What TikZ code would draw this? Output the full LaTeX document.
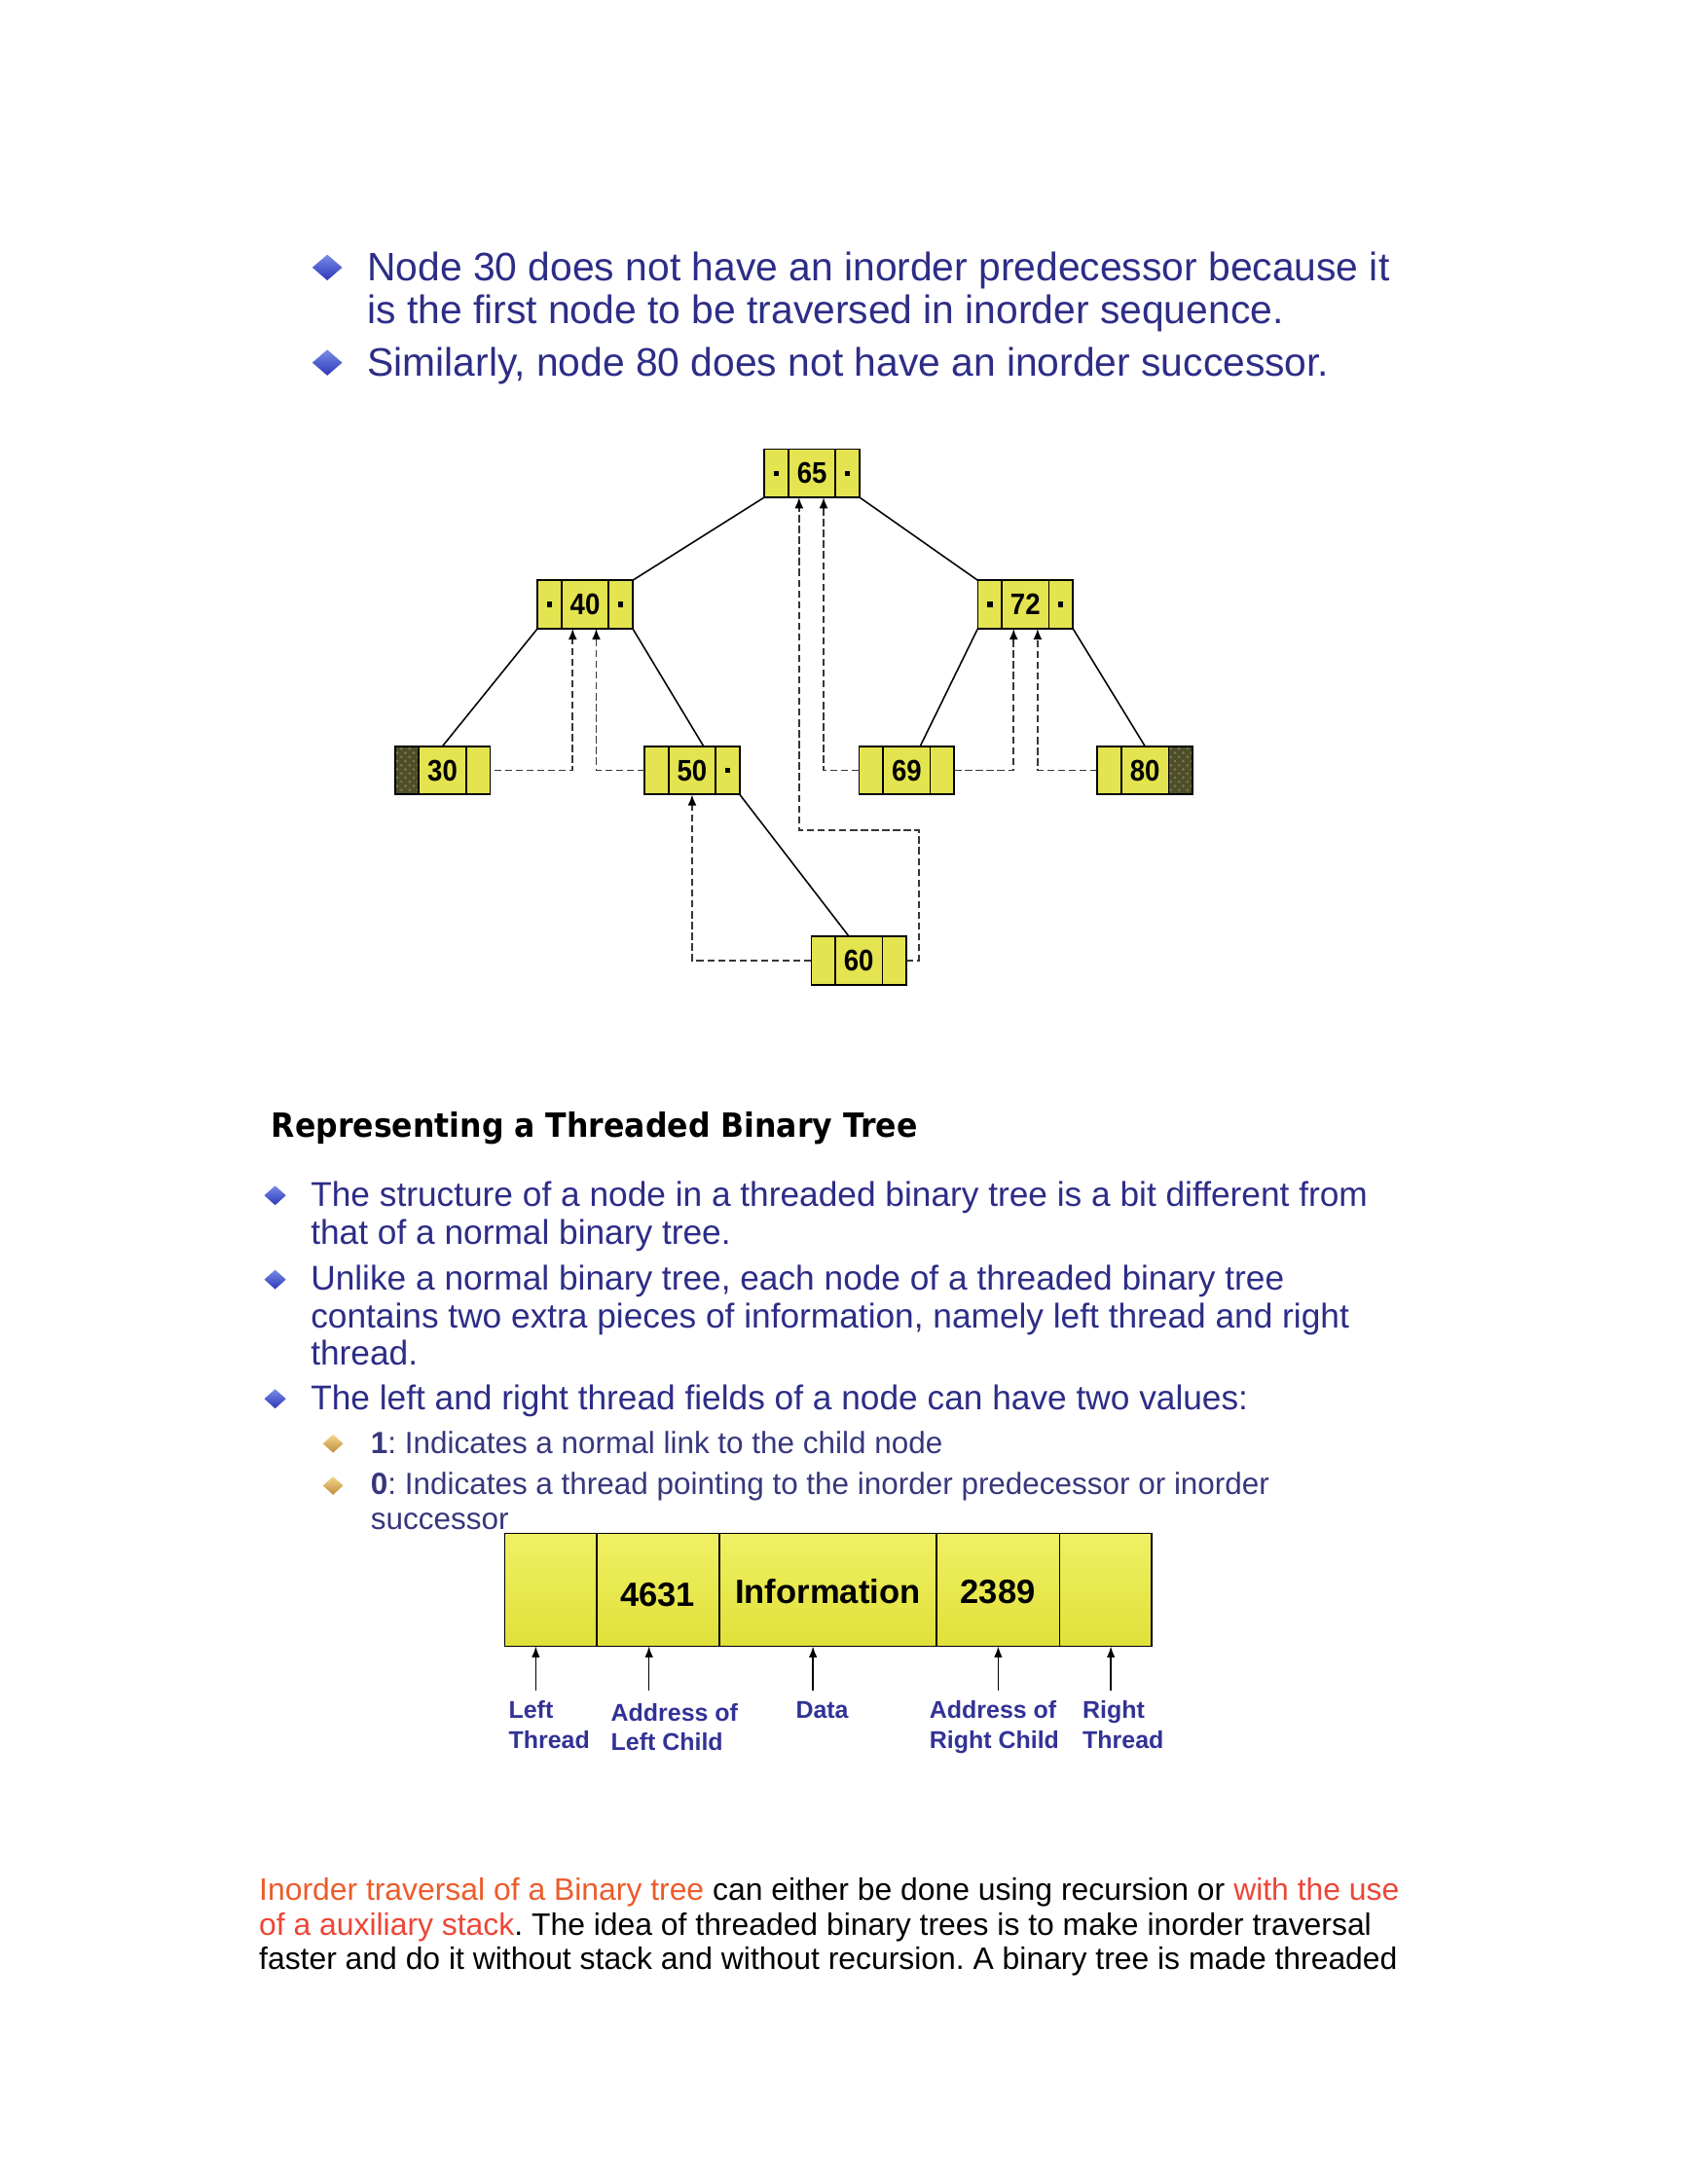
\documentclass[tikz,border=0pt]{standalone}
\usepackage{fontspec}
\setmainfont{Liberation Sans}
\newfontfamily\headfont{DejaVu Sans}
\usetikzlibrary{calc,arrows.meta,shapes.geometric,patterns}
\definecolor{navy}{RGB}{45,45,135}
\definecolor{subnavy}{RGB}{55,55,125}
\definecolor{lblnavy}{RGB}{50,50,150}
\definecolor{tyellow}{RGB}{228,228,80}
\definecolor{syelA}{RGB}{240,240,100}
\definecolor{syelB}{RGB}{224,224,58}
\definecolor{dcell}{RGB}{78,78,42}
\definecolor{dspeck}{RGB}{125,125,80}
\definecolor{dgray}{RGB}{55,55,55}
\definecolor{blueA}{RGB}{120,140,230}
\definecolor{blueB}{RGB}{45,55,185}
\definecolor{goldA}{RGB}{245,215,140}
\definecolor{goldB}{RGB}{190,140,60}
\definecolor{linkA}{RGB}{236,92,42}
\definecolor{linkB}{RGB}{236,70,55}
\newcommand\tcells[1]{%
  \draw[line width=0.6pt] ($(#1.north west)+(17.4,0)$) -- ($(#1.south west)+(17.4,0)$)
        ($(#1.north east)+(-17.4,0)$) -- ($(#1.south east)+(-17.4,0)$);}
\newcommand\ldot[1]{\fill ($(#1.west)+(6.9,-1.9)$) rectangle ++(3.8,3.8);}
\newcommand\rdot[1]{\fill ($(#1.east)+(-10.7,-1.9)$) rectangle ++(3.8,3.8);}
\newcommand\tnumtxt[1]{\scalebox{0.9}[1]{#1}}
\frenchspacing
\begin{document}
\begin{tikzpicture}[x=0.5pt,y=-0.5pt,
  tbox/.style={draw=black, line width=0.6pt, fill=tyellow, minimum width=34.5pt,
    minimum height=17.5pt, inner sep=0pt, outer sep=0pt},
  tnum/.style={font=\bfseries\fontsize{10.8}{12}\selectfont, inner sep=0pt},
  tedge/.style={line width=0.55pt, black},
  thread/.style={line width=0.7pt, draw=dgray, dash pattern=on 2.6pt off 1.3pt,
    -{Latex[length=4pt,width=3.2pt,color=black]}},
  bigtxt/.style={anchor=base west, inner sep=0pt, text=navy, font=\fontsize{14.4}{17}\selectfont},
  midtxt/.style={anchor=base west, inner sep=0pt, text=navy, font=\fontsize{12.45}{15}\selectfont},
  subtxt/.style={anchor=base west, inner sep=0pt, text=subnavy, font=\fontsize{11.1}{13}\selectfont},
  paratxt/.style={anchor=base west, inner sep=0pt, text=black, font=\fontsize{11.25}{13}\selectfont},
  lbl/.style={anchor=base west, inner sep=0pt, text=lblnavy, font=\bfseries\fontsize{8.8}{10}\selectfont},
  bluedia/.style={diamond, aspect=1.15, inner sep=0pt, minimum width=11pt, minimum height=9.5pt,
    top color=blueA, bottom color=blueB},
  bluedias/.style={bluedia, minimum width=8pt, minimum height=7.2pt},
  golddia/.style={diamond, aspect=1.15, inner sep=0pt, minimum width=7.5pt, minimum height=6.8pt,
    top color=goldA, bottom color=goldB},
  sbox/.style={draw=black, line width=0.6pt, top color=syelA, bottom color=syelB,
    minimum width=234.5pt, minimum height=41pt, inner sep=0pt, outer sep=0pt},
  snum/.style={font=\bfseries\fontsize{12.2}{14}\selectfont, inner sep=0pt},
  sarrow/.style={line width=0.55pt, -{Latex[length=4pt,width=3pt]}},
]
\useasboundingbox[fill=white] (0,0) rectangle (1224,1584);

% ---- top bullets ----
\node[bluedia] (d1) at (237.3,194) {};
\node[bluedia] (d2) at (237.3,263) {};
\node[bigtxt] (l1) at (266,203.5) {Node 30 does not have an inorder predecessor because it};
\node[bigtxt] (l2) at (266,234.7) {is the first node to be traversed in inorder sequence.};
\node[bigtxt] (l3) at (266,273) {Similarly, node 80 does not have an inorder successor.};

% ---- tree ----
\node[tbox] (n65) at (588.75,343.2) {};
\node[tbox] (n40) at (424.25,438.4) {};
\node[tbox] (n72) at (743.5,438.4) {};
\node[tbox] (n30) at (320.85,558.7) {};
\node[tbox] (n50) at (501.85,558.7) {};
\node[tbox] (n69) at (657.45,558.7) {};
\node[tbox] (n80) at (830.25,558.7) {};
\node[tbox] (n60) at (622.75,696.6) {};
% dark thread cells
\fill[dcell] (n30.north west) rectangle ($(n30.south west)+(17.4,0)$);
\fill[pattern=crosshatch dots, pattern color=dspeck] (n30.north west) rectangle ($(n30.south west)+(17.4,0)$);
\fill[dcell] (n80.north east) rectangle ($(n80.south east)+(-17.4,0)$);
\fill[pattern=crosshatch dots, pattern color=dspeck] (n80.north east) rectangle ($(n80.south east)+(-17.4,0)$);
\draw[line width=0.6pt] (n30.north west) rectangle (n30.south east);
\draw[line width=0.6pt] (n80.north west) rectangle (n80.south east);
\foreach \n in {n65,n40,n72,n30,n50,n69,n80,n60} {\tcells{\n}}
\ldot{n65}\rdot{n65}\ldot{n40}\rdot{n40}\ldot{n72}\rdot{n72}\rdot{n50}
\node[tnum] (t65) at (n65) {\tnumtxt{65}};
\node[tnum] (t40) at (n40) {\tnumtxt{40}};
\node[tnum] (t72) at (n72) {\tnumtxt{72}};
\node[tnum] (t30) at (n30) {\tnumtxt{30}};
\node[tnum] (t50) at (n50) {\tnumtxt{50}};
\node[tnum] (t69) at (n69) {\tnumtxt{69}};
\node[tnum] (t80) at (n80) {\tnumtxt{80}};
\node[tnum] (t60) at (n60) {\tnumtxt{60}};
% child links
\draw[tedge] (n65.south west) -- (n40.north east);
\draw[tedge] (n65.south east) -- (n72.north west);
\draw[tedge] (n40.south west) -- (n30.north);
\draw[tedge] (n40.south east) -- ($(n50.north)+(8.3,0)$);
\draw[tedge] (n72.south west) -- ($(n69.north)+(9.8,0)$);
\draw[tedge] (n72.south east) -- (n80.north);
\draw[tedge] (n50.south east) -- ($(n60.north)+(-7.2,0)$);
% threads
\coordinate (b1) at (666.1,601.8);
\draw[thread] ($(n30.east)+(3,0)$) -| ($(n40.south)+(-9,0)$);
\draw[thread] (n50.west) -| ($(n40.south)+(8.1,0)$);
\draw[thread] (n60.west) -| (n50.south);
\draw[thread] (n60.east) -| (b1) -| ($(n65.south)+(-9.35,0)$);
\draw[thread] (n69.west) -| ($(n65.south)+(8.45,0)$);
\draw[thread] (n69.east) -| ($(n72.south)+(-8.5,0)$);
\draw[thread] (n80.west) -| ($(n72.south)+(8.9,0)$);

% ---- heading ----
\node[anchor=base west, inner sep=0pt, font=\headfont\bfseries\fontsize{12.1}{14}\selectfont] (hd) at (196.5,824.5) {\scalebox{0.92}[1]{Representing a Threaded Binary Tree}};

% ---- second bullets ----
\node[bluedias] (d3) at (199.5,867) {};
\node[bluedias] (d4) at (199.5,928) {};
\node[bluedias] (d5) at (199.5,1014.5) {};
\node[midtxt] (m1) at (225,875) {The structure of a node in a threaded binary tree is a bit different from};
\node[midtxt] (m2) at (225,902.4) {that of a normal binary tree.};
\node[midtxt] (m3) at (225,935.7) {Unlike a normal binary tree, each node of a threaded binary tree};
\node[midtxt] (m4) at (225,963) {contains two extra pieces of information, namely left thread and right};
\node[midtxt] (m5) at (225,990.2) {thread.};
\node[midtxt] (m6) at (225,1022.5) {The left and right thread fields of a node can have two values:};
\node[golddia] (g1) at (241.5,1047) {};
\node[golddia] (g2) at (241.5,1077.5) {};
\node[subtxt] (s1) at (268.5,1054) {\textbf{1}: Indicates a normal link to the child node};
\node[subtxt] (s2) at (268.5,1084) {\textbf{0}: Indicates a thread pointing to the inorder predecessor or inorder};
\node[subtxt] (s3) at (268.5,1109.4) {successor};

% ---- node structure ----
\node[sbox] (sb) at (600.5,1153) {};
\draw[line width=0.6pt] ($(sb.north west)+(66.7,0)$) -- ($(sb.south west)+(66.7,0)$)
  ($(sb.north west)+(155.5,0)$) -- ($(sb.south west)+(155.5,0)$)
  ($(sb.north west)+(313,0)$) -- ($(sb.south west)+(313,0)$)
  ($(sb.north west)+(402.3,0)$) -- ($(sb.south west)+(402.3,0)$);
\node[snum] (f2) at (477,1156.5) {4631};
\node[snum] (f3) at (600.2,1154.5) {Information};
\node[snum] (f4) at (723.6,1154.5) {2389};
\coordinate (a1) at (388.5,1226);
\coordinate (a2) at (470.6,1226);
\coordinate (a3) at (589.5,1226);
\coordinate (a4) at (723.8,1226);
\coordinate (a5) at (805.5,1226);
\foreach \a in {a1,a2,a3,a4,a5} {\draw[sarrow] (\a) -- (\a |- sb.south);}
\node[lbl] (k1a) at (368.5,1246) {Left};
\node[lbl] (k1b) at (368.5,1268) {Thread};
\node[lbl] (k2a) at (442.7,1248) {Address of};
\node[lbl] (k2b) at (442.7,1269.5) {Left Child};
\node[lbl] (k3a) at (576.7,1246) {Data};
\node[lbl] (k4a) at (673.7,1246) {Address of};
\node[lbl] (k4b) at (673.7,1268) {Right Child};
\node[lbl] (k5a) at (784.7,1246) {Right};
\node[lbl] (k5b) at (784.7,1268) {Thread};

% ---- bottom paragraph ----
\node[paratxt] (p1) at (187.5,1378) {{\color{linkA}Inorder traversal of a Binary tree} can either be done using recursion or {\color{linkB}with the use}};
\node[paratxt] (p2) at (187.5,1403.3) {{\color{linkB}of a auxiliary stack}. The idea of threaded binary trees is to make inorder traversal};
\node[paratxt] (p3) at (187.5,1428.5) {faster and do it without stack and without recursion. A binary tree is made threaded};
\end{tikzpicture}
\end{document}
